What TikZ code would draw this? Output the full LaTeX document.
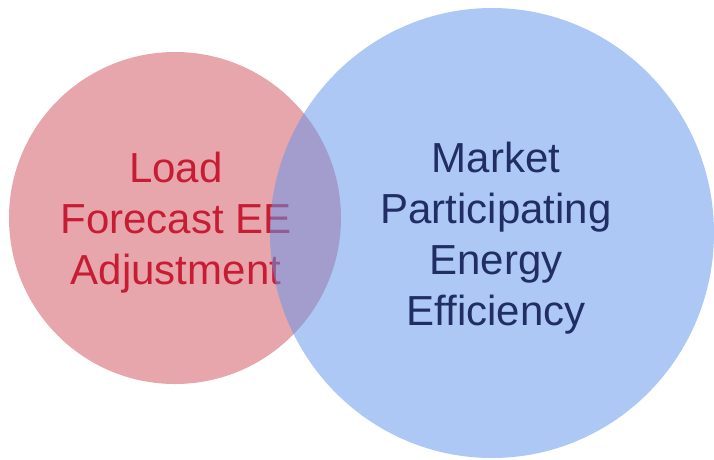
\documentclass[tikz,border=0pt]{standalone}
\usepackage{fontspec}
\setmainfont{Liberation Sans}
\definecolor{redfill}{RGB}{230,166,172}
\definecolor{bluebase}{RGB}{100,149,237}
\definecolor{redtext}{RGB}{200,28,52}
\definecolor{bluetext}{RGB}{32,46,100}
\tikzset{
  bigtext/.style={align=center,inner sep=0pt,font=\fontsize{42}{51}\selectfont},
}
\begin{document}
\begin{tikzpicture}[x=1pt,y=-1pt]
\useasboundingbox (0,0) rectangle (714,459);
\fill[redfill] (175,218) circle[radius=166];
\node[bigtext,text=redtext] (load) at (176,223) {Load\\Forecast EE\\Adjustment};
\fill[bluebase,fill opacity=0.52] (492,233) ellipse[x radius=222,y radius=225];
\node[bigtext,text=bluetext] (market) at (496,238) {Market\\Participating\\Energy\\Efficiency};
\end{tikzpicture}
\end{document}
